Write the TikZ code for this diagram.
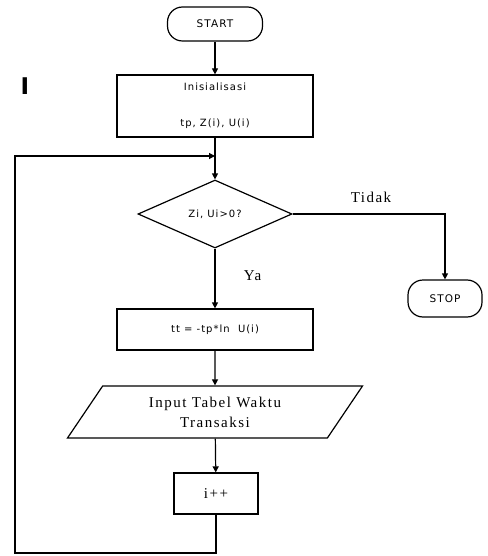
\documentclass[tikz,border=0pt]{standalone}
\usepackage{fontspec}
\newfontfamily\txtfont[LetterSpace=10]{Liberation Serif}
\newfontfamily\boxfont[LetterSpace=10]{DejaVu Sans}
\usetikzlibrary{positioning, arrows.meta, shapes.geometric}
\tikzset{
  term/.style = {draw, rectangle, rounded corners=15pt, inner sep=0pt,
                 font=\boxfont\fontsize{10.5}{12}\selectfont},
  blk/.style  = {draw, rectangle, align=center, inner sep=0pt,
                 font=\boxfont\fontsize{10}{12}\selectfont},
  dia/.style  = {draw, diamond, aspect=2.26, inner sep=0pt,
                 minimum width=154pt, minimum height=68pt,
                 font=\boxfont\fontsize{10}{12}\selectfont},
  io/.style   = {draw, trapezium, trapezium left angle=41,
                 trapezium right angle=139, trapezium stretches body,
                 align=center, inner sep=0pt, minimum height=52pt,
                 font=\txtfont\fontsize{15}{20}\selectfont},
  ar/.style   = {-{Triangle[length=6pt, width=6pt]}},
  lbl/.style  = {inner sep=0pt, font=\txtfont\fontsize{15}{16}\selectfont},
}

\begin{document}
\begin{tikzpicture}[x=1pt, y=1pt, line width=1.2pt]
  \useasboundingbox (0,0) rectangle (487,-556);
  \node[term, minimum width=95pt, minimum height=34pt] (start) at (215,-24) {START};
  \node[blk, minimum width=196pt, minimum height=62pt] (init) at (215,-106)
    {Inisialisasi\\[24pt]tp, Z(i), U(i)};
  \node[font=\fontspec{DejaVu Sans Bold}\fontsize{23}{23}\selectfont, inner sep=0pt] (cur) at (25,-86.5) {I};
  \node[dia] (dec) at (215,-214) {Zi, Ui>0?};
  \node[term, minimum width=74pt, minimum height=37pt] (stop) at (445,-298.5) {STOP};
  \node[blk, minimum width=196pt, minimum height=41pt] (calc) at (215,-329.5)
    {tt = -tp*ln\ \ U(i)};
  \node[io, minimum width=295pt] (inp) at (215,-412) {Input Tabel Waktu\\Transaksi};
  \node[blk, font=\txtfont\fontsize{15}{16}\selectfont, minimum width=84pt,
        minimum height=41pt] (inc) at (216,-493.5) {i++};
  \node[lbl] (tdk) at (371,-197) {Tidak};
  \node[lbl] (ya) at (252.5,-276) {Ya};
  \coordinate (lp) at (15,-553);
  \coordinate (mg) at (215,-156);

  \draw[ar] (start) -- (init);
  \draw[ar] (init) -- (dec);
  \draw[ar] (dec.east) -| (stop.north);
  \draw[ar] (dec) -- (calc);
  \draw[ar] (calc) -- (inp);
  \draw[ar] (inp) -- (inc);
  \draw[ar] (inc.south) |- (lp) |- (mg);
\end{tikzpicture}
\end{document}
